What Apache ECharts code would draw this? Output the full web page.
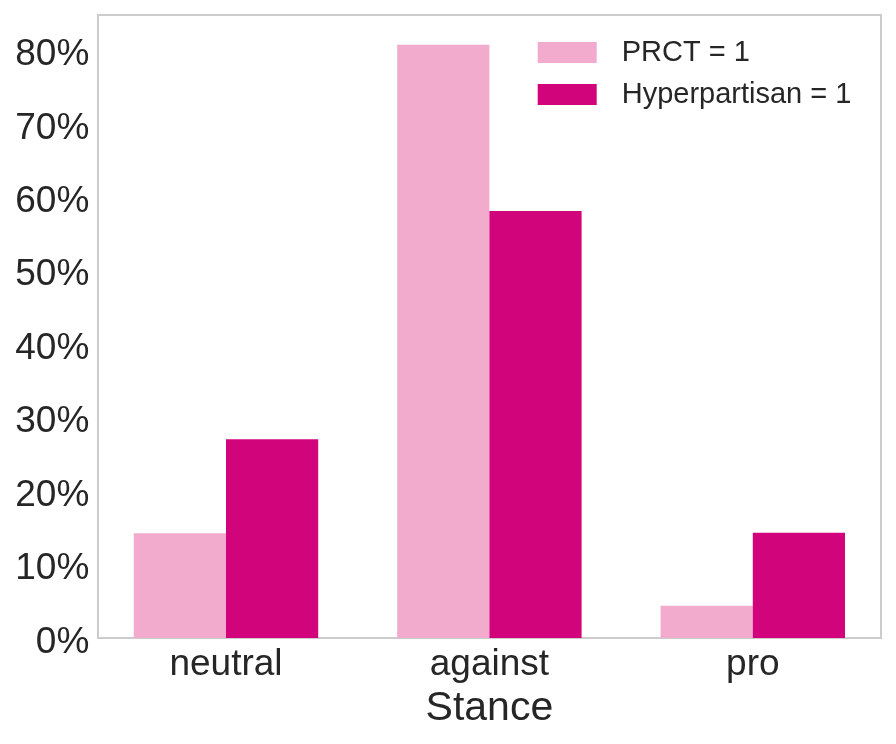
<!DOCTYPE html>
<html>
<head>
<meta charset="utf-8">
<script src="https://cdn.jsdelivr.net/npm/echarts@6/dist/echarts.min.js"></script>
<style>html,body{margin:0;padding:0;background:#fff}#c{width:896px;height:744px}</style>
</head>
<body>
<div id="c"></div>
<script>
const categories = ['neutral', 'against', 'pro'];
const prct = [14.26, 80.79, 4.40];
const hyper = [27.06, 58.14, 14.34];
const seriesNames = ['PRCT = 1', 'Hyperpartisan = 1'];
const xName = 'Stance';

const font = 'Liberation Sans, Arial, sans-serif';
const txt = '#262626';
const chart = echarts.init(document.getElementById('c'), null, {renderer: 'canvas'});
chart.setOption({
  animation: false,
  backgroundColor: '#fff',
  grid: [
    {left: 94.3, top: 15, width: 790.2, height: 623, show: false},
    {left: 98, top: 15, width: 783, height: 623, show: true, borderColor: '#cccccc', borderWidth: 2, backgroundColor: 'transparent'}
  ],
  legend: {
    orient: 'vertical', left: 532.7, top: 33,
    itemWidth: 59, itemHeight: 21, itemGap: 13, icon: 'rect',
    textStyle: {fontFamily: font, fontSize: 29, color: txt, padding: [0, 0, 0, 20]},
    data: seriesNames
  },
  xAxis: [
    {
      type: 'category', gridIndex: 0, data: categories,
      axisLine: {show: false}, axisTick: {show: false},
      axisLabel: {fontFamily: font, fontSize: 37, color: txt, margin: 8},
      name: xName, nameLocation: 'middle', nameGap: 48,
      nameTextStyle: {fontFamily: font, fontSize: 41, color: txt}
    },
    {type: 'value', gridIndex: 1, show: false}
  ],
  yAxis: [
    {
      type: 'value', gridIndex: 0, min: 0, max: 84.83, interval: 10,
      axisLine: {show: false}, axisTick: {show: false}, splitLine: {show: false},
      axisLabel: {fontFamily: font, fontSize: 37, color: txt, margin: 5, verticalAlign: 'top', lineHeight: 9, formatter: '{value}%', showMaxLabel: false}
    },
    {type: 'value', gridIndex: 1, show: false}
  ],
  series: [
    {name: seriesNames[0], type: 'bar', data: prct, barWidth: 92.2, barGap: '0%', itemStyle: {color: '#f2aacd'}},
    {name: seriesNames[1], type: 'bar', data: hyper, barWidth: 92.2, barGap: '0%', itemStyle: {color: '#d2047c'}}
  ]
});
</script>
</body>
</html>
